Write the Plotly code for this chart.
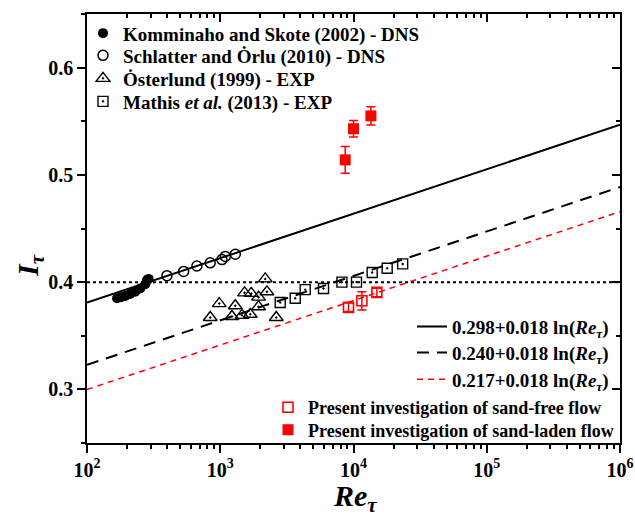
import numpy as np
import plotly.graph_objects as go

# ---------------- data ----------------
ks_re = [168, 180, 194, 211, 230, 251, 274, 282, 290]
ks_it = [0.385, 0.386, 0.387, 0.389, 0.391, 0.394, 0.398, 0.402, 0.403]

so_re = [398, 531, 668, 841, 1030, 1092, 1297]
so_it = [0.406, 0.410, 0.415, 0.418, 0.421, 0.424, 0.426]

os_re = [841, 983, 1224, 1296, 1455, 1522, 1679, 1708, 1938, 1938, 2176, 2240, 2631]
os_it = [0.367, 0.380, 0.368, 0.378, 0.369, 0.390, 0.370, 0.3895, 0.386, 0.377, 0.403, 0.391, 0.367]

ma_re = [2818, 3653, 4342, 5957, 8185, 10530, 13810, 17900, 23390]
ma_it = [0.381, 0.385, 0.393, 0.394, 0.400, 0.400, 0.409, 0.413, 0.417]

free_re = [9173, 11560, 14980]
free_it = [0.3765, 0.3826, 0.3904]
free_err = [0.004, 0.0085, 0.004]

laden_re = [8665, 10000, 13510]
laden_it = [0.514, 0.543, 0.555]
laden_err = [0.0124, 0.0077, 0.0085]

fit_intercepts = [0.298, 0.240, 0.217]
fit_slope = 0.018
fit_labels = ["0.298+0.018 ln(<i>Re</i><sub><i>τ</i></sub>)",
              "0.240+0.018 ln(<i>Re</i><sub><i>τ</i></sub>)",
              "0.217+0.018 ln(<i>Re</i><sub><i>τ</i></sub>)"]
re_span = [1e2, 1e6]
ref_level = 0.4

x_tickvals = [1e2, 1e3, 1e4, 1e5, 1e6]
x_ticktext = ["10<sup>2</sup>", "10<sup>3</sup>", "10<sup>4</sup>", "10<sup>5</sup>", "10<sup>6</sup>"]

# ---------------- layout helpers ----------------
W, H = 635, 518
ML, MR, MT, MB = 87, 15, 14, 75
PW, PH = W - ML - MR, H - MT - MB
FONT = "Liberation Serif"


def px_x(px):
    return (px - ML) / PW


def px_y(py):
    return (MT + PH - py) / PH


def cx(px):
    return px / W


def cy(py):
    return 1 - py / H


fig = go.Figure()

legend_names = []


def new_legend():
    name = "legend" if not legend_names else f"legend{len(legend_names) + 1}"
    legend_names.append(name)
    return name


fit_styles = [dict(color="black", width=2, dash="solid"),
              dict(color="black", width=2, dash="12px,8px"),
              dict(color="red", width=1.5, dash="6px,5px")]

marker_traces = [
    ("Komminaho and Skote (2002) - DNS", ks_re, ks_it,
     dict(symbol="circle", size=10, color="black")),
    ("Schlatter and Ȯrlu (2010) - DNS", so_re, so_it,
     dict(symbol="circle-open", size=10, color="black", line=dict(width=1.5, color="black"))),
    ("Ȯsterlund (1999) - EXP", os_re, os_it,
     dict(symbol="triangle-up-open-dot", size=12, color="black", line=dict(width=1.4, color="black"))),
    ("Mathis <i>et al.</i> (2013) - EXP", ma_re, ma_it,
     dict(symbol="square-open-dot", size=10, color="black", line=dict(width=1.4, color="black"))),
]

legend_layout = {}
top_rows = [33.3, 55.5, 78.5, 101.5]
line_rows = [326.7, 352.7, 379.3]
red_rows = [407.5, 430]

for i, a in enumerate(fit_intercepts):
    ys = [a + fit_slope * np.log(r) for r in re_span]
    lg = new_legend()
    legend_layout[lg] = dict(x=cx(412), y=cy(line_rows[i]), size=19)
    fig.add_trace(go.Scatter(x=re_span, y=ys, mode="lines", name=fit_labels[i],
                             line=fit_styles[i], legend=lg))

for i, (name, xs, ys, mk) in enumerate(marker_traces):
    lg = new_legend()
    legend_layout[lg] = dict(x=cx(83), y=cy(top_rows[i]), size=19)
    fig.add_trace(go.Scatter(x=xs, y=ys, mode="markers", name=name, marker=mk, legend=lg))

lg = new_legend()
legend_layout[lg] = dict(x=cx(268), y=cy(red_rows[0]), size=18)
fig.add_trace(go.Scatter(x=free_re, y=free_it, mode="markers",
                         name="Present investigation of sand-free flow",
                         marker=dict(symbol="square-open", size=10, color="red",
                                     line=dict(width=1.6, color="red")),
                         error_y=dict(type="data", array=free_err, color="red", thickness=1.5, width=4.5),
                         legend=lg))
lg = new_legend()
legend_layout[lg] = dict(x=cx(268), y=cy(red_rows[1]), size=18)
fig.add_trace(go.Scatter(x=laden_re, y=laden_it, mode="markers",
                         name="Present investigation of sand-laden flow",
                         marker=dict(symbol="square", size=11, color="red"),
                         error_y=dict(type="data", array=laden_err, color="red", thickness=1.5, width=4.5),
                         legend=lg))

# dummy trace for mirrored (inside-tick) axes
fig.add_trace(go.Scatter(x=[], y=[], xaxis="x2", yaxis="y2", showlegend=False, hoverinfo="skip"))

for name, d in legend_layout.items():
    size = d.pop("size")
    d.update(xref="container", yref="container", xanchor="left", yanchor="middle",
             font=dict(family=FONT, size=size, color="black", weight="bold"),
             bgcolor="rgba(0,0,0,0)", borderwidth=0, itemsizing="trace")
    fig.update_layout(**{name: d})

minor_x = [m * 10 ** k for k in range(2, 6) for m in range(2, 10)]
tickfont = dict(family=FONT, size=20, color="black", weight="bold")
common = dict(tickwidth=1.5, tickcolor="black", showline=True, linewidth=1.5, linecolor="black",
              showgrid=False, zeroline=False, automargin=False)

fig.update_layout(
    width=W, height=H,
    margin=dict(l=ML, r=MR, t=MT, b=MB, autoexpand=False),
    paper_bgcolor="white", plot_bgcolor="white",
    xaxis=dict(type="log", range=[2, 6], tickmode="array", tickvals=x_tickvals, ticktext=x_ticktext,
               ticks="outside", ticklen=8,
               minor=dict(tickmode="array", tickvals=minor_x, ticks="outside", ticklen=4,
                          tickwidth=1.5, tickcolor="black", showgrid=False),
               tickfont=tickfont, **common),
    yaxis=dict(range=[0.25, 0.65], tick0=0.3, dtick=0.1, tickformat=".1f",
               ticks="outside", ticklen=8,
               minor=dict(tick0=0.25, dtick=0.05, ticks="outside", ticklen=4,
                          tickwidth=1.5, tickcolor="black", showgrid=False),
               tickfont=tickfont, **common),
    xaxis2=dict(type="log", range=[2, 6], overlaying="x", side="top", anchor="y",
                tickmode="array", tickvals=x_tickvals, showticklabels=False,
                ticks="inside", ticklen=8,
                minor=dict(tickmode="array", tickvals=minor_x, ticks="inside", ticklen=4,
                           tickwidth=1.5, tickcolor="black", showgrid=False), **common),
    yaxis2=dict(range=[0.25, 0.65], overlaying="y", side="right", anchor="x",
                tick0=0.3, dtick=0.1, showticklabels=False,
                ticks="inside", ticklen=8,
                minor=dict(tick0=0.25, dtick=0.05, ticks="inside", ticklen=4,
                           tickwidth=1.5, tickcolor="black", showgrid=False), **common),
    shapes=[dict(type="line", xref="paper", x0=0, x1=1, yref="y", y0=ref_level, y1=ref_level,
                 line=dict(color="black", width=2, dash="dot"), layer="below")],
    annotations=[
        dict(text="<i>I</i><sub><i>τ</i></sub>", xref="paper", yref="paper",
             x=px_x(30), y=px_y(266), xanchor="center", yanchor="middle",
             textangle=-90, showarrow=False,
             font=dict(family=FONT, size=30, color="black", weight="bold")),
        dict(text="<i>Re</i><sub><i>τ</i></sub>", xref="paper", yref="paper",
             x=px_x(355), y=px_y(498), xanchor="center", yanchor="middle", showarrow=False,
             font=dict(family=FONT, size=30, color="black", weight="bold")),
    ],
    showlegend=True,
)

fig.write_html("out.html", config={"displayModeBar": False},
               post_script="document.body.style.margin='0';document.body.style.padding='0';")
